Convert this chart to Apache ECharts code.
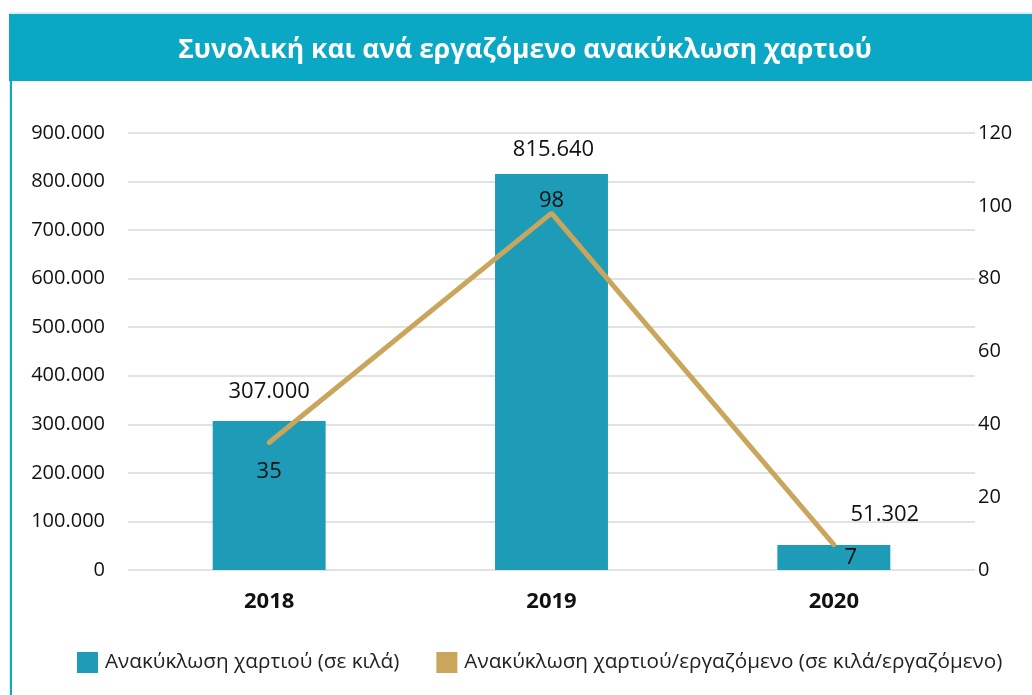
<!DOCTYPE html>
<html>
<head>
<meta charset="utf-8">
<script src="https://cdn.jsdelivr.net/npm/echarts@6/dist/echarts.min.js"></script>
<style>
  html, body { margin: 0; padding: 0; background: #ffffff; }
  #chart { width: 1032px; height: 695px; }
</style>
</head>
<body>
<div id="chart"></div>
<script>
// Paper recycling by year
const years = ['2018', '2019', '2020'];
const totalKg = [307000, 815640, 51302];
const perEmployeeKg = [35, 98, 7];

// label placement for each point (kept apart from the data)
const perEmployeeLabelPos = ['bottom', 'top', 'bottom'];
const perEmployeeLabelGap = [17, 0, 1];
const perEmployeeLabelShift = [[0, 0], [0, 0], [17, 0]];
const totalLabelGap = [18, 13, 19];
const totalLabelShift = [[0, 0], [2, 0], [51, 0]];

const titleText = 'Συνολική και ανά εργαζόμενο ανακύκλωση χαρτιού';
const seriesNames = ['Ανακύκλωση χαρτιού (σε κιλά)', 'Ανακύκλωση χαρτιού/εργαζόμενο (σε κιλά/εργαζόμενο)'];

const FONT = '"Open Sans", "Noto Sans", sans-serif';
const TEAL = '#1e9bb6';
const GOLD = '#c9a65c';

function fmtDots(v) {
  return String(Math.round(v)).replace(/\B(?=(\d{3})+(?!\d))/g, '.');
}

const chart = echarts.init(document.getElementById('chart'), null, { renderer: 'canvas' });

chart.setOption({
  animation: false,
  backgroundColor: '#ffffff',
  graphic: [
    { type: 'rect', shape: { x: 10, y: 13, width: 1030, height: 700 },
      style: { fill: 'none', stroke: '#b9e3ec', lineWidth: 1 }, z: 0 },
    { type: 'rect', shape: { x: 10, y: 81, width: 2, height: 620 },
      style: { fill: '#0ea8c6' }, z: 1 },
    { type: 'rect', shape: { x: 9, y: 14, width: 1030, height: 67 },
      style: { fill: '#0aa8c5' }, z: 2 },
    { type: 'text', x: 525, y: 50,
      style: { text: titleText, fill: '#ffffff', font: 'bold 26.5px ' + FONT,
        textAlign: 'center', textVerticalAlign: 'middle' }, z: 3 }
  ],
  grid: { left: 128, right: 57, top: 133, bottom: 125, containLabel: false },
  legend: {
    bottom: 17, left: 72,
    itemWidth: 21, itemHeight: 21, itemGap: 37,
    icon: 'rect',
    textStyle: { fontFamily: FONT, fontSize: 20.7, color: '#222', padding: [0, 0, 0, 2] },
    data: seriesNames
  },
  xAxis: {
    type: 'category',
    data: years,
    axisLine: { show: false },
    axisTick: { show: false },
    axisLabel: { fontFamily: FONT, fontSize: 22, fontWeight: 'bold', color: '#111', margin: 21 }
  },
  yAxis: [
    {
      type: 'value', min: 0, max: 900000, interval: 100000,
      axisLine: { show: false }, axisTick: { show: false },
      splitLine: { lineStyle: { color: '#d9d9d9', width: 1.5 } },
      axisLabel: { fontFamily: FONT, fontSize: 20, color: '#111', margin: 23,
        formatter: v => fmtDots(v) }
    },
    {
      type: 'value', min: 0, max: 120, interval: 20,
      axisLine: { show: false }, axisTick: { show: false },
      splitLine: { show: false },
      axisLabel: { fontFamily: FONT, fontSize: 20, color: '#111', margin: 3 }
    }
  ],
  series: [
    {
      name: seriesNames[0],
      type: 'bar',
      yAxisIndex: 0,
      data: totalKg.map((v, i) => ({
        value: v,
        label: { distance: totalLabelGap[i], offset: totalLabelShift[i] }
      })),
      barWidth: '40%',
      itemStyle: { color: TEAL },
      label: { show: true, position: 'top', fontFamily: FONT, fontSize: 22, color: '#111',
        formatter: p => fmtDots(p.value) },
      z: 2
    },
    {
      name: seriesNames[1],
      type: 'line',
      yAxisIndex: 1,
      data: perEmployeeKg.map((v, i) => ({
        value: v,
        label: {
          position: perEmployeeLabelPos[i],
          distance: perEmployeeLabelGap[i],
          offset: perEmployeeLabelShift[i]
        }
      })),
      symbol: 'circle',
      symbolSize: 3,
      showSymbol: true,
      lineStyle: { color: GOLD, width: 5, cap: 'round' },
      itemStyle: { color: GOLD },
      label: { show: true, fontFamily: FONT, fontSize: 22, color: '#111' },
      z: 3
    }
  ]
});
</script>
</body>
</html>
